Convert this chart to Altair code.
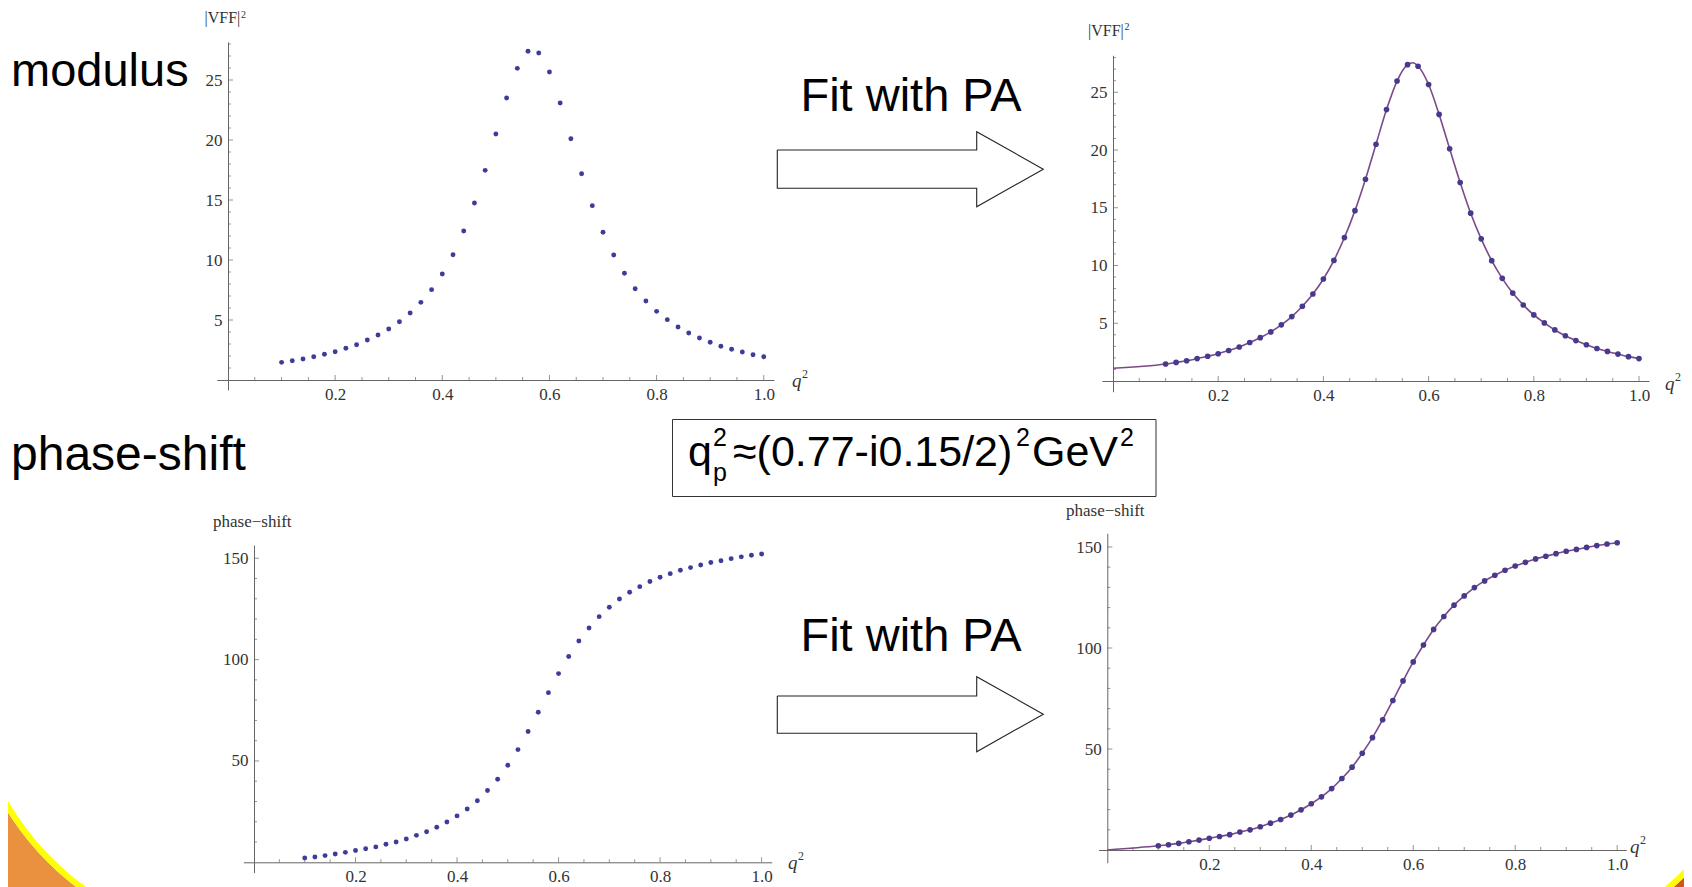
import altair as alt
import pandas as pd

# ---------------- data ----------------
q_values = [0.10, 0.12, 0.14, 0.16, 0.18, 0.20, 0.22, 0.24, 0.26, 0.28,
            0.30, 0.32, 0.34, 0.36, 0.38, 0.40, 0.42, 0.44, 0.46, 0.48,
            0.50, 0.52, 0.54, 0.56, 0.58, 0.60, 0.62, 0.64, 0.66, 0.68,
            0.70, 0.72, 0.74, 0.76, 0.78, 0.80, 0.82, 0.84, 0.86, 0.88,
            0.90, 0.92, 0.94, 0.96, 0.98, 1.00]
modulus_values = [1.47, 1.61, 1.75, 1.94, 2.14, 2.36, 2.64, 2.94, 3.33, 3.75,
                  4.25, 4.86, 5.58, 6.47, 7.53, 8.83, 10.44, 12.42, 14.75, 17.47,
                  20.5, 23.5, 25.97, 27.39, 27.25, 25.67, 23.08, 20.11, 17.19, 14.53,
                  12.31, 10.42, 8.89, 7.61, 6.58, 5.72, 5.03, 4.42, 3.92, 3.5,
                  3.14, 2.81, 2.56, 2.33, 2.11, 1.94]
phase_values = [2.1, 2.6, 3.3, 4.1, 4.9, 5.8, 6.7, 7.6, 8.9, 10.0,
                11.5, 13.3, 15.1, 17.3, 19.9, 22.9, 26.3, 30.4, 35.4, 41.0,
                47.9, 55.6, 64.5, 74.0, 83.7, 93.1, 101.5, 109.2, 115.6, 121.2,
                125.8, 129.9, 133.2, 136.0, 138.5, 140.6, 142.4, 144.1, 145.4, 146.7,
                147.9, 148.8, 149.8, 150.7, 151.5, 152.1]
# extra points of the fitted (PA) curves
fit_extra_q_mod = [0.0, 0.57]
fit_extra_mod = [1.1, 27.55]
fit_extra_q_phase = [0.0]
fit_extra_phase = [0.0]

x_major = [0.2, 0.4, 0.6, 0.8, 1.0]
x_minor = [0.05, 0.1, 0.15, 0.25, 0.3, 0.35, 0.45, 0.5, 0.55, 0.65, 0.7, 0.75,
           0.85, 0.9, 0.95]
mod_major = [5, 10, 15, 20, 25]
mod_minor = [1, 2, 3, 4, 6, 7, 8, 9, 11, 12, 13, 14, 16, 17, 18, 19, 21, 22, 23,
             24, 26, 27, 28]
phase_major = [50, 100, 150]
phase_minor = [10, 20, 30, 40, 60, 70, 80, 90, 110, 120, 130, 140]

label_modulus = "modulus"
label_phase = "phase-shift"
label_fit = "Fit with PA"
ytitle_mod = "|VFF|"
ytitle_phase = "phase\u2212shift"

# ---------------- layout ----------------
W, H = 1676, 879
M = 8
SERIF = "Liberation Serif"
SANS = "Liberation Sans"
AXC = "#666666"
LABC = "#333333"
PT_LEFT = "#3d3d99"
PT_RIGHT = "#47398c"
FIT_C = "#7a4a88"

panels = {
    "TL": dict(x0=228.0, xs=535.75, xd=[-0.021, 1.019], y0=380.0, ys=12.0, yd=[-0.83, 28.17]),
    "TR": dict(x0=1113.0, xs=526.0, xd=[-0.021, 1.019], y0=381.0, ys=11.55, yd=[-0.93, 28.2]),
    "BL": dict(x0=254.0, xs=507.6, xd=[-0.021, 1.02], y0=862.3, ys=2.027, yd=[-5.1, 156.5]),
    "BR": dict(x0=1107.3, xs=509.9, xd=[-0.0173, 1.0176], y0=850.0, ys=2.02, yd=[-6.3, 156.8]),
}

one = pd.DataFrame({"a": [1]})


def scales(p):
    xr = [p["x0"] + p["xd"][0] * p["xs"] - M, p["x0"] + p["xd"][1] * p["xs"] - M]
    yr = [p["y0"] - p["yd"][0] * p["ys"] - M, p["y0"] - p["yd"][1] * p["ys"] - M]
    return (alt.Scale(domain=p["xd"], range=xr, nice=False, zero=False),
            alt.Scale(domain=p["yd"], range=yr, nice=False, zero=False))


def panel(p, yvals, ymajor, yminor, fit=None, pt_color=PT_LEFT, pt_size=24):
    xs_, ys_ = scales(p)
    layers = []
    if fit is not None:
        fq, fv = fit
        fdf = pd.DataFrame({"q": fq, "v": fv}).sort_values("q")
        layers.append(
            alt.Chart(fdf).mark_line(color=FIT_C, strokeWidth=1.6, interpolate="monotone").encode(
                x=alt.X("q:Q", scale=xs_, axis=None),
                y=alt.Y("v:Q", scale=ys_, axis=None),
            )
        )
    xaxis = alt.Axis(orient="bottom", offset=(p["y0"] - M) - H, values=x_major, format=".1f",
                     ticks=False, tickSize=0, grid=False, domainColor=AXC, domainWidth=1,
                     labelFont=SERIF, labelFontSize=17, labelColor=LABC, labelPadding=6,
                     title=None, labelOverlap=False, labelFlush=False)
    yaxis = alt.Axis(orient="left", offset=-(p["x0"] - M), values=ymajor, format="d",
                     ticks=False, tickSize=0, grid=False, domainColor=AXC, domainWidth=1,
                     labelFont=SERIF, labelFontSize=17, labelColor=LABC, labelPadding=6,
                     title=None, labelOverlap=False, labelFlush=False)
    pdf = pd.DataFrame({"q": q_values, "v": yvals})
    layers.append(
        alt.Chart(pdf).mark_circle(color=pt_color, size=pt_size, opacity=1).encode(
            x=alt.X("q:Q", scale=xs_, axis=xaxis),
            y=alt.Y("v:Q", scale=ys_, axis=yaxis),
        )
    )

    def xt(vals, L):
        df = pd.DataFrame({"t": vals, "z": [0] * len(vals)})
        return alt.Chart(df).mark_tick(orient="vertical", size=L, thickness=1, color=AXC,
                                        yOffset=-L / 2).encode(
            x=alt.X("t:Q", scale=xs_, axis=None), y=alt.Y("z:Q", scale=ys_, axis=None))

    def yt(vals, L):
        df = pd.DataFrame({"t": vals, "z": [0] * len(vals)})
        return alt.Chart(df).mark_tick(orient="horizontal", size=L, thickness=1, color=AXC,
                                        xOffset=L / 2).encode(
            x=alt.X("z:Q", scale=xs_, axis=None), y=alt.Y("t:Q", scale=ys_, axis=None))

    layers += [xt(x_major, 5), xt(x_minor, 3), yt(ymajor, 5), yt(yminor, 3)]
    return layers


def txt(s, x, y, size, font=SANS, align="left", style="normal", color="#000000"):
    return alt.Chart(one).mark_text(text=s, font=font, fontSize=size, align=align,
                                    baseline="alphabetic", fontStyle=style, color=color).encode(
        x=alt.value(x - M), y=alt.value(y - M))


def arc(cx, cy, r_in, r_out, t0, t1, color):
    return alt.Chart(one).mark_arc(color=color).encode(
        x=alt.value(cx - M), y=alt.value(cy - M),
        radius=alt.value(r_out), radius2=alt.value(r_in),
        theta=alt.value(t0), theta2=alt.value(t1))


def arrow(x_left, x_base, x_tip, y_body_top, y_body_bot, y_head_top, y_head_bot):
    y_tip = (y_head_top + y_head_bot) / 2
    xs = [x_left, x_base, x_base, x_tip, x_base, x_base, x_left, x_left]
    ys = [y_body_top, y_body_top, y_head_top, y_tip, y_head_bot, y_body_bot, y_body_bot, y_body_top]
    df = pd.DataFrame({"px": [v - M for v in xs], "py": [v - M for v in ys], "i": list(range(len(xs)))})
    return alt.Chart(df).mark_line(color="#222222", strokeWidth=1.1).encode(
        x=alt.X("px:Q", scale=None), y=alt.Y("py:Q", scale=None), order="i:Q")


PI = 3.141592653589793
layers = []
# slide corner decorations
layers.append(arc(250, 660, 286, 900, PI, 1.5 * PI, "#e9913e"))
layers.append(arc(250, 660, 280, 286, PI, 1.5 * PI, "#ffff00"))
layers.append(arc(1455, 640, 330, 900, 0.5 * PI, PI, "#d8521f"))
layers.append(arc(1455, 640, 324, 330, 0.5 * PI, PI, "#ffff00"))

# panels
layers += panel(panels["TL"], modulus_values, mod_major, mod_minor, pt_color=PT_LEFT, pt_size=24)
layers += panel(panels["TR"], modulus_values, mod_major, mod_minor,
                fit=(q_values + fit_extra_q_mod, modulus_values + fit_extra_mod),
                pt_color=PT_RIGHT, pt_size=32)
layers += panel(panels["BL"], phase_values, phase_major, phase_minor, pt_color=PT_LEFT, pt_size=24)
layers += panel(panels["BR"], phase_values, phase_major, phase_minor,
                fit=(q_values + fit_extra_q_phase, phase_values + fit_extra_phase),
                pt_color=PT_RIGHT, pt_size=32)

# axis titles
layers += [txt(ytitle_mod, 204.5, 23, 16, SERIF, color=LABC), txt("2", 241, 18, 10, SERIF, color=LABC)]
layers += [txt(ytitle_mod, 1088, 36, 16, SERIF, color=LABC), txt("2", 1124.5, 30, 10, SERIF, color=LABC)]
layers += [txt(ytitle_phase, 213, 527, 17, SERIF, color=LABC)]
layers += [txt(ytitle_phase, 1066, 516, 17, SERIF, color=LABC)]
for (qx, qy) in [(792, 387), (1665, 390), (788, 869), (1630, 853)]:
    layers += [txt("q", qx, qy, 19, SERIF, style="italic", color=LABC),
               txt("2", qx + 10, qy - 9, 12, SERIF, color=LABC)]

# slide texts
layers += [txt(label_modulus, 11, 86, 47), txt(label_phase, 11, 470, 48)]
layers += [txt(label_fit, 911, 111, 47, align="center"), txt(label_fit, 911, 651, 47, align="center")]
layers.append(arrow(777.3, 976.7, 1043.3, 150, 188.3, 131.7, 206.7))
layers.append(arrow(777.3, 976.7, 1043.3, 696, 733.3, 676.7, 751.7))

# formula box
layers.append(alt.Chart(one).mark_rect(fill="white", stroke="#333333", strokeWidth=1).encode(
    x=alt.value(672.5 - M), x2=alt.value(1156 - M), y=alt.value(419.5 - M), y2=alt.value(496.5 - M)))
layers += [
    txt("q", 688, 466, 43),
    txt("2", 713, 446, 25),
    txt("p", 713, 481, 25),
    txt("\u2248(0.77-i0.15/2)", 733, 466, 43),
    txt("2", 1016, 446, 25),
    txt("GeV", 1032, 466, 43),
    txt("2", 1120, 446, 25),
]

chart = alt.layer(*layers).resolve_scale(x="independent", y="independent").properties(
    width=W, height=H, padding=0, autosize=alt.AutoSizeParams(type="none"),
    background="white",
).configure_view(stroke=None)

chart.save("out.html", embed_options={"renderer": "svg", "actions": False})
